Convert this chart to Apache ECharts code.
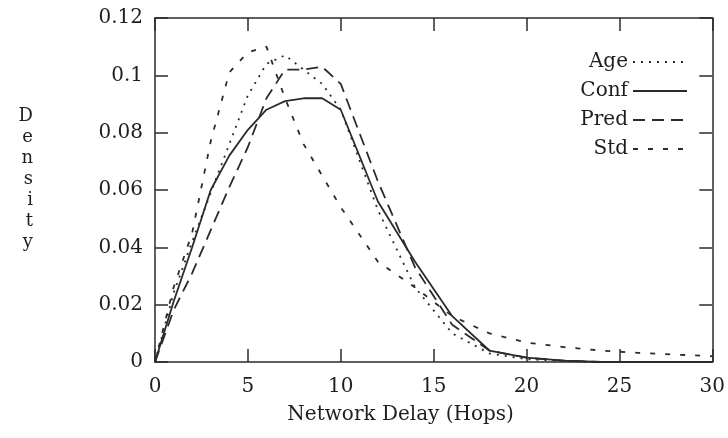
<!DOCTYPE html>
<html>
<head>
<meta charset="utf-8">
<script src="https://cdn.jsdelivr.net/npm/echarts@6/dist/echarts.min.js"></script>
<style>
html, body { margin: 0; padding: 0; background: #fff; }
#chart { width: 728px; height: 438px; }
</style>
</head>
<body>
<div id="chart"></div>
<script>
// hops sampled each step up to 10, then every 2
var hops = [0, 1, 2, 3, 4, 5, 6, 7, 8, 9, 10, 12, 14, 16, 18, 20, 22, 24, 26, 28, 30];
var ageVals  = [0, 0.024, 0.042, 0.059, 0.076, 0.093, 0.104, 0.107, 0.102, 0.097, 0.088, 0.053, 0.026, 0.010, 0.003, 0.001, 0.0003, 0, 0, 0, 0];
var confVals = [0, 0.021, 0.040, 0.060, 0.072, 0.081, 0.088, 0.091, 0.092, 0.092, 0.088, 0.056, 0.035, 0.016, 0.004, 0.0015, 0.0005, 0, 0, 0, 0];
var predVals = [0, 0.018, 0.031, 0.046, 0.061, 0.075, 0.092, 0.102, 0.102, 0.103, 0.097, 0.063, 0.033, 0.013, 0.004, 0.0015, 0.0005, 0, 0, 0, 0];
var stdVals  = [0, 0.026, 0.045, 0.077, 0.101, 0.108, 0.110, 0.092, 0.076, 0.065, 0.054, 0.035, 0.026, 0.016, 0.010, 0.0068, 0.0052, 0.004, 0.0032, 0.0026, 0.002];

var names = ['Age', 'Conf', 'Pred', 'Std'];
var lineTypes = [[2, 6], 'solid', [12, 7], [5, 10]];
var allVals = [ageVals, confVals, predVals, stdVals];

var ink = '#2b2b2b';
var txt = '#1e1e1e';
var font = 'DejaVu Serif';

function pairs(vals) {
    var out = [];
    for (var i = 0; i < hops.length; i++) {
        out.push([hops[i], vals[i]]);
    }
    return out;
}

var series = [];
for (var k = 0; k < names.length; k++) {
    series.push({
        name: names[k],
        type: 'line',
        symbol: 'none',
        data: pairs(allVals[k]),
        lineStyle: {color: ink, width: 1.8, type: lineTypes[k]},
        itemStyle: {color: ink}
    });
}

var hidden = {show: false};
var frameLine = {show: true, onZero: false, lineStyle: {color: ink, width: 1.5}};
var frameTick = {inside: true, length: 13, lineStyle: {color: ink, width: 1.5}};

var myChart = echarts.init(document.getElementById('chart'));
var option = {
    backgroundColor: '#fff',
    animation: false,
    grid: {left: 155, right: 15, top: 18, bottom: 76},
    legend: {
        orient: 'vertical',
        right: 35,
        top: 47,
        align: 'right',
        itemWidth: 54,
        itemHeight: 14,
        itemGap: 9,
        itemStyle: {opacity: 0},
        textStyle: {fontFamily: font, fontSize: 20, color: txt},
        data: names
    },
    xAxis: [
        {
            type: 'value',
            min: 0, max: 30, interval: 5,
            name: 'Network Delay (Hops)',
            nameLocation: 'middle',
            nameGap: 43,
            nameTextStyle: {fontFamily: font, fontSize: 20, color: txt, padding: [0, 66, 0, 0]},
            axisLine: frameLine,
            axisTick: frameTick,
            axisLabel: {fontFamily: font, fontSize: 20, color: txt, margin: 15},
            splitLine: hidden
        },
        {
            type: 'value', position: 'top',
            min: 0, max: 30, interval: 5,
            axisLine: frameLine,
            axisTick: frameTick,
            axisLabel: hidden,
            splitLine: hidden
        }
    ],
    yAxis: [
        {
            type: 'value',
            min: 0, max: 0.12, interval: 0.02,
            // trailing blank line lifts the stacked letters a little
            name: 'D\ne\nn\ns\ni\nt\ny\n',
            nameLocation: 'middle',
            nameRotate: 0,
            nameGap: 122,
            nameTextStyle: {fontFamily: font, fontSize: 18, color: txt, lineHeight: 21},
            axisLine: frameLine,
            axisTick: frameTick,
            axisLabel: {fontFamily: font, fontSize: 20, color: txt, margin: 12},
            splitLine: hidden
        },
        {
            type: 'value', position: 'right',
            min: 0, max: 0.12, interval: 0.02,
            axisLine: frameLine,
            axisTick: frameTick,
            axisLabel: hidden,
            splitLine: hidden
        }
    ],
    series: series
};

myChart.setOption(option);
</script>
</body>
</html>
